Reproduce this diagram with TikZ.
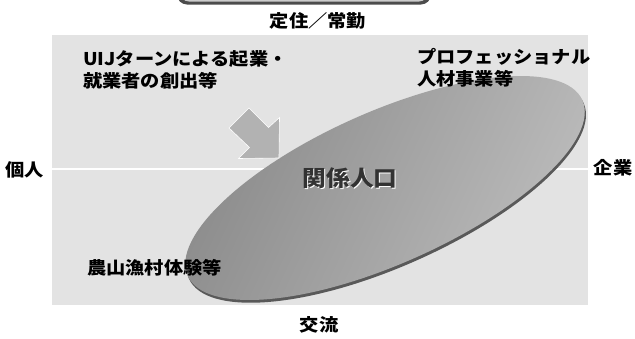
\documentclass[tikz,border=0pt]{standalone}
\usepackage{fontspec}
\setmainfont{Noto Sans CJK JP}
\begin{document}
\begin{tikzpicture}[x=1pt,y=-1pt,
  lbl/.style={inner sep=0pt, font=\fontsize{17.5}{22}\bfseries\selectfont, xscale=1.1, transform shape, text=black},
  side/.style={lbl, align=left, anchor=west},
  big/.style={inner sep=0pt, font=\fontsize{22}{26}\bfseries\selectfont, xscale=1.08, transform shape}]
\useasboundingbox (0,0) rectangle (635,338);
\clip (0,0) rectangle (635,338);
% partial shape at the top
\fill[black!70, rounded corners=10pt] (177,-40) rectangle (431,4.5);
\fill[gray!40, rounded corners=9pt] (180,-40) rectangle (428,1.5);
% panel
\fill[gray!22] (52,35) rectangle (588,305);
\draw[white, line width=2pt] (52,169) -- (588,169);
% ellipse with shadow
\fill[black!65, rotate around={24:(385,188)}] (385,191) ellipse [x radius=216pt, y radius=76pt];
\shade[left color=gray!92, right color=gray!52, shading angle=65, rotate around={24:(385,188)}]
  (385,188) ellipse [x radius=216pt, y radius=76pt];
% block arrow
\fill[gray!60, draw=white, line width=0.6pt]
  (249,108) -- (268.5,127.5) -- (279.5,117.5) -- (279,158) -- (238.5,158.5)
  -- (249.5,147.5) -- (229,128) -- cycle;
% labels
\node[lbl] (top) at (318,21) {定住／常勤};
\node[lbl] (bottom) at (319,325) {交流};
\node[lbl] (left) at (25,170) {個人};
\node[lbl] (right) at (613,168) {企業};
\node[side] (uij) at (83,70) {UIJターンによる起業・\\就業者の創出等};
\node[side] (pro) at (417,68) {プロフェッショナル\\人材事業等};
\node[side] (farm) at (87,268) {農山漁村体験等};
\node[big, text=white] (kwhite) at (351.2,179.2) {関係人口};
\node[big, text=black!80] (kankei) at (350,178) {関係人口};
\end{tikzpicture}
\end{document}
